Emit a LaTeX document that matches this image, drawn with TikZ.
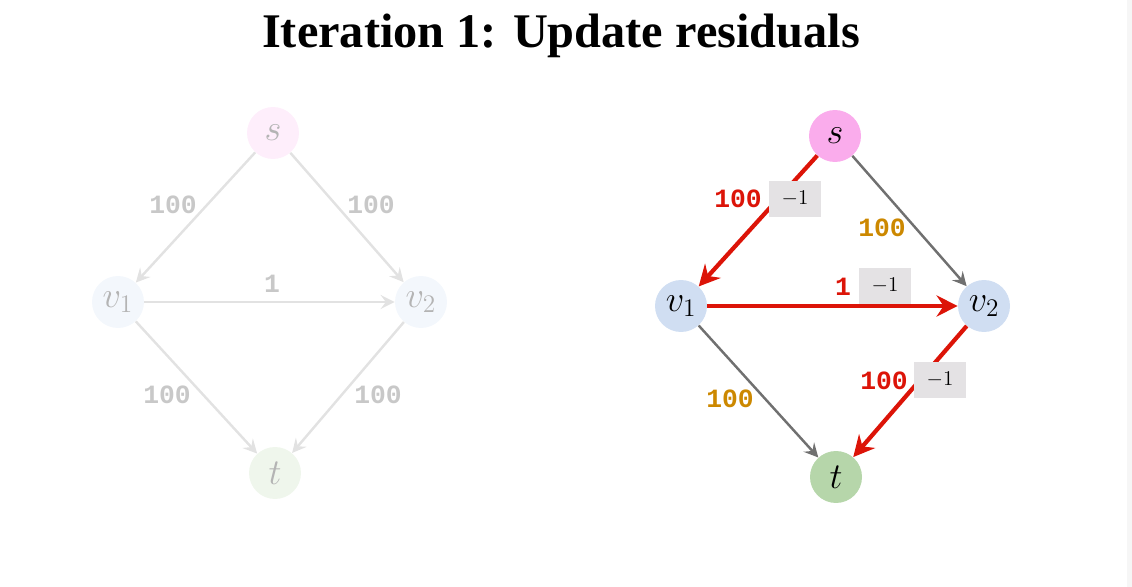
\documentclass[tikz,border=0pt]{standalone}
\usepackage{fontspec}
\newfontfamily\titlefont{Liberation Serif}
\newfontfamily\numfont{Liberation Mono}
\usepackage{tikz}
\usetikzlibrary{arrows.meta}
\definecolor{flowred}{RGB}{220,20,8}
\definecolor{capgold}{RGB}{204,136,0}
\definecolor{edgegray}{RGB}{112,112,112}
\definecolor{fadeline}{RGB}{226,226,226}
\definecolor{fadetext}{RGB}{200,200,200}
\definecolor{srcfill}{RGB}{250,172,236}
\definecolor{midfill}{RGB}{208,222,242}
\definecolor{sinkfill}{RGB}{182,214,170}
\definecolor{boxfill}{RGB}{228,226,228}

\begin{document}
\begin{tikzpicture}[x=0.02cm, y=-0.02cm,
  vert/.style={circle, minimum size=1.04cm, inner sep=0pt, font=\fontsize{22}{24}\selectfont},
  faded/.style={vert, text=fadetext!90!black},
  capnum/.style={font=\numfont\bfseries\fontsize{15}{16}\selectfont, inner sep=0pt},
  delta/.style={fill=boxfill, minimum width=1.04cm, minimum height=0.72cm, inner sep=0pt, font=\fontsize{13}{14}\selectfont},
  ghost/.style={draw=fadeline, line width=1.4pt, -{Stealth[length=8pt, width=8pt, inset=3pt]}},
  plain/.style={draw=edgegray, line width=1.4pt, -{Stealth[length=8pt, width=8pt, inset=3pt]}},
  hot/.style={draw=flowred, line width=2.4pt, -{Stealth[length=12pt, width=12pt, inset=4pt]}}
]
\useasboundingbox (0,0) rectangle (1132,587);
\fill[gray!7] (1127,0) rectangle (1132,587);

\node[font=\titlefont\bfseries\fontsize{27.5}{30}\selectfont] (title) at (561,36) {Iteration 1: Update residuals};

% left: the network before the update, faded
\node[faded, fill=srcfill!20] (ls) at (273,133) {$s$};
\node[faded, fill=midfill!25] (lv1) at (118,302) {$v_1$};
\node[faded, fill=midfill!25] (lv2) at (421,302) {$v_2$};
\node[faded, fill=sinkfill!22] (lt) at (275,473) {$t$};
\draw[ghost] (ls) -- (lv1);
\draw[ghost] (ls) -- (lv2);
\draw[ghost] (lv1) -- (lv2);
\draw[ghost] (lv1) -- (lt);
\draw[ghost] (lv2) -- (lt);
\node[capnum, text=fadetext] (lc1) at (173,205) {100};
\node[capnum, text=fadetext] (lc2) at (371,205) {100};
\node[capnum, text=fadetext] (lc3) at (272,284) {1};
\node[capnum, text=fadetext] (lc4) at (167,395) {100};
\node[capnum, text=fadetext] (lc5) at (378,395) {100};

% right: residuals along the augmenting path
\node[vert, fill=srcfill] (s) at (835,136) {$s$};
\node[vert, fill=midfill] (v1) at (681,306) {$v_1$};
\node[vert, fill=midfill] (v2) at (984,306) {$v_2$};
\node[vert, fill=sinkfill] (t) at (836,477) {$t$};
\draw[plain] (s) -- (v2);
\draw[plain] (v1) -- (t);
\draw[hot] (s) -- (v1);
\draw[hot] (v1) -- (v2);
\draw[hot] (v2) -- (t);
\node[delta] (d1) at (795,199) {$-1$};
\node[delta] (d2) at (885,286) {$-1$};
\node[delta] (d3) at (940,380) {$-1$};
\node[capnum, text=flowred] (c1) at (738,199) {100};
\node[capnum, text=flowred] (c3) at (843,287) {1};
\node[capnum, text=flowred] (c5) at (884,381) {100};
\node[capnum, text=capgold] (c2) at (882,228) {100};
\node[capnum, text=capgold] (c4) at (730,399) {100};
\end{tikzpicture}
\end{document}
